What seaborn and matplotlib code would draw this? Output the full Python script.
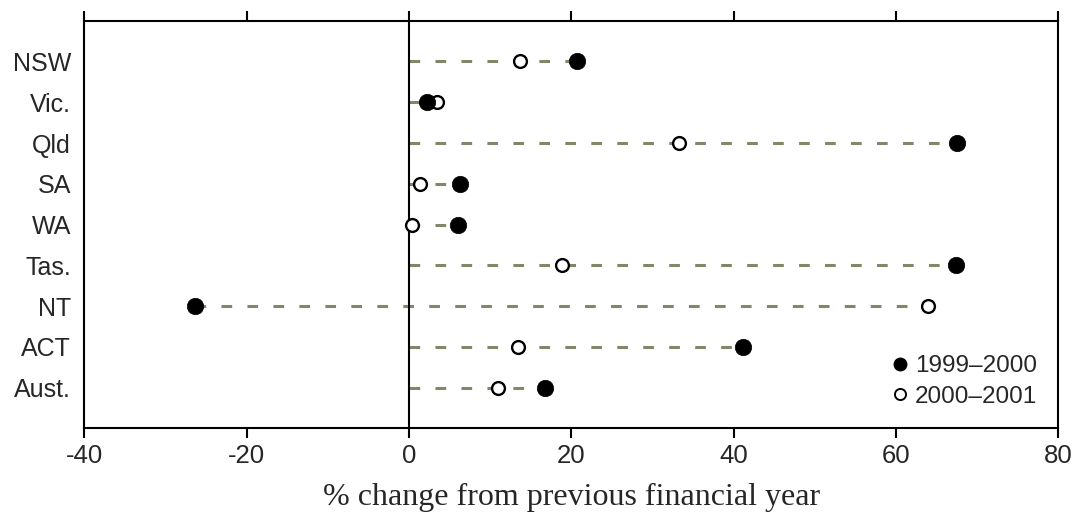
import pandas as pd
import matplotlib
matplotlib.use("Agg")
import matplotlib.pyplot as plt
import seaborn as sns
from matplotlib.lines import Line2D

# values
states = ["NSW", "Vic.", "Qld", "SA", "WA", "Tas.", "NT", "ACT", "Aust."]
change_9900 = [20.7, 2.2, 67.5, 6.3, 6.1, 67.4, -26.4, 41.2, 16.7]
change_0001 = [13.7, 3.5, 33.3, 1.4, 0.4, 18.9, 63.9, 13.4, 11.0]
xticks = [-40, -20, 0, 20, 40, 60, 80]

df = pd.DataFrame({"state": states, "y9900": change_9900, "y0001": change_0001})
df["lo"] = df[["y9900", "y0001"]].min(axis=1).clip(upper=0)
df["hi"] = df[["y9900", "y0001"]].max(axis=1).clip(lower=0)

sns.set_style("white")
plt.rcParams["font.family"] = ["Liberation Sans", "DejaVu Sans"]

fig = plt.figure(figsize=(10.79, 5.18), dpi=100)
ax = fig.add_axes([0.078, 0.173, 0.903, 0.787])

# dashed guide lines from zero out to the furthest point
ax.hlines(df["state"], df["lo"], df["hi"], colors="#85856a", linewidth=2.2,
          linestyles=(0, (3.5, 5)), zorder=1)
ax.axvline(0, color="black", linewidth=1.5, zorder=2)

sns.scatterplot(data=df, x="y0001", y="state", ax=ax, marker="o", s=85,
                facecolor="white", edgecolor="black", linewidth=1.7, zorder=3)
sns.scatterplot(data=df, x="y9900", y="state", ax=ax, marker="o", s=140,
                color="black", edgecolor="black", linewidth=0.5, zorder=4)

ax.set_xlim(-40, 80)
ax.set_ylim(9, -1)
ax.set_xticks(xticks)
ax.set_xticklabels([str(t) for t in xticks])
ax.set_ylabel("")
ax.set_xlabel("% change from previous financial year", family="Liberation Serif",
              fontsize=23, labelpad=11)

for s in ax.spines.values():
    s.set_color("black")
    s.set_linewidth(1.5)
ax.tick_params(axis="x", which="both", direction="out", length=7, width=1.5,
               top=True, bottom=True, labeltop=False, labelsize=18.5, pad=4,
               color="black")
ax.tick_params(axis="y", left=False, labelsize=18, pad=6)

handles = [
    Line2D([], [], marker="o", linestyle="", markersize=9, markerfacecolor="black",
           markeredgecolor="black"),
    Line2D([], [], marker="o", linestyle="", markersize=8, markerfacecolor="white",
           markeredgecolor="black", markeredgewidth=1.4),
]
ax.legend(handles, ["1999–2000", "2000–2001"], loc="lower right", frameon=False,
          fontsize=17.5, handletextpad=0.15, handlelength=0.9, labelspacing=0.35,
          borderaxespad=0, borderpad=0, bbox_to_anchor=(0.978, 0.05))

fig.savefig("out.png", dpi=100)
